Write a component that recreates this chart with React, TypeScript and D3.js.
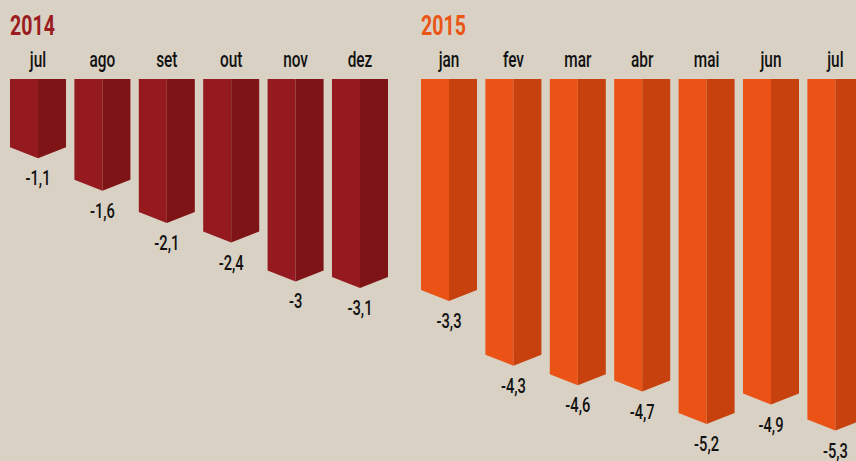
import React from "react";
import * as d3 from "d3";

const months2014 = ["jul", "ago", "set", "out", "nov", "dez"];
const values2014 = [-1.1, -1.6, -2.1, -2.4, -3, -3.1];
const months2015 = ["jan", "fev", "mar", "abr", "mai", "jun", "jul"];
const values2015 = [-3.3, -4.3, -4.6, -4.7, -5.2, -4.9, -5.3];

const W = 856;
const H = 461;
const BG = "#d9d2c4";
const FONT = "Roboto, 'DejaVu Sans', sans-serif";
const SX = 0.7;

const groups = [
  { year: "2014", months: months2014, values: values2014, range: [10, 388], left: "#951a1f", right: "#7e1416", title: "#9b1c20" },
  { year: "2015", months: months2015, values: values2015, range: [421, 863.4], left: "#ea5315", right: "#c6410e", title: "#ea5516" },
];

const y = d3.scaleLinear().domain([0, -5.3]).range([76, 419.5]);
const TOP = 79;
const TIP = 11;

const fmt = (v: number) => String(v).replace(".", ",");

export default function App() {
  return (
    <svg width={W} height={H} style={{ position: "absolute", left: 0, top: 0, display: "block" }}>
      <rect x={0} y={0} width={W} height={H} fill={BG} />
      {groups.map((g) => {
        const x = d3.scaleBand<string>().domain(g.months.map((m, i) => m + i)).range(g.range as [number, number]).paddingInner(0.13).paddingOuter(0);
        const x0 = g.range[0];
        return (
          <g key={g.year}>
            <text x={0} y={0} fill={g.title} fontFamily={FONT} fontWeight={700} fontSize={28}
              transform={`translate(${x0},34.5) scale(${SX},1)`}>{g.year}</text>
            {g.months.map((m, i) => {
              const bx = x(m + i)!;
              const bw = x.bandwidth();
              const cx = bx + bw / 2;
              const sy = y(g.values[i]);
              const py = sy + TIP;
              const leftPath = `M${bx},${TOP}L${cx},${TOP}L${cx},${py}L${bx},${sy}Z`;
              const rightPath = `M${cx},${TOP}L${bx + bw},${TOP}L${bx + bw},${sy}L${cx},${py}Z`;
              return (
                <g key={m + i}>
                  <text x={0} y={0} textAnchor="middle" fontFamily={FONT} fontWeight={500} fontSize={22} fill="#111"
                    transform={`translate(${cx},67) scale(${SX},1)`}>{m}</text>
                  <path d={leftPath} fill={g.left} />
                  <path d={rightPath} fill={g.right} />
                  <text x={0} y={0} textAnchor="middle" fontFamily={FONT} fontWeight={500} fontSize={21} fill="#111"
                    transform={`translate(${cx},${py + 27}) scale(${SX},1)`}>{fmt(g.values[i])}</text>
                </g>
              );
            })}
          </g>
        );
      })}
    </svg>
  );
}
